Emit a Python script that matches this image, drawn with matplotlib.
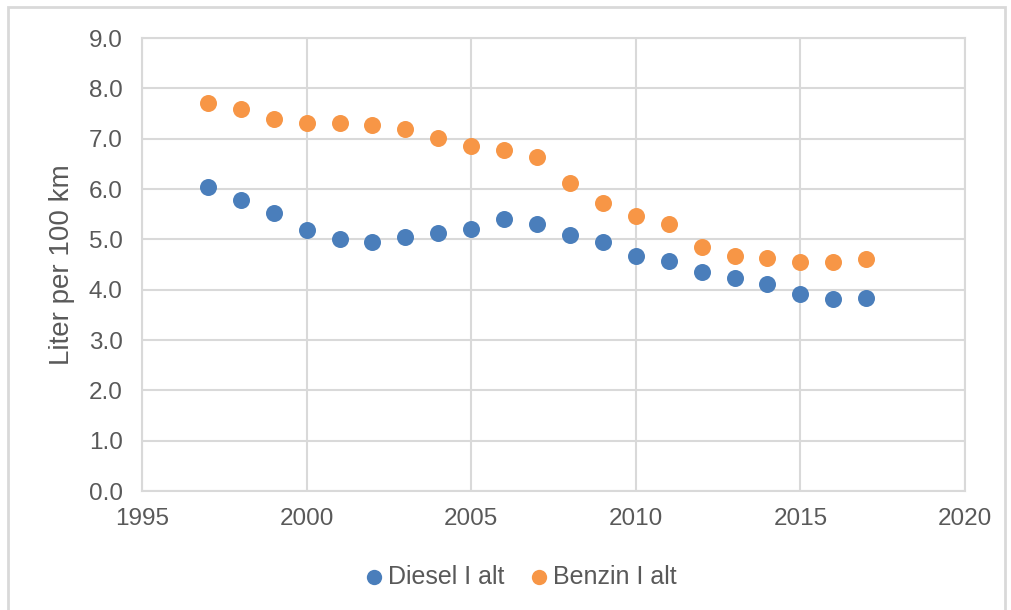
import matplotlib
matplotlib.use("Agg")
from matplotlib import pyplot as plt
from matplotlib.patches import Rectangle

plt.rcParams['font.family'] = ['Liberation Sans', 'DejaVu Sans']

years = list(range(1997, 2018))
diesel = [6.04, 5.78, 5.52, 5.19, 5.01, 4.95, 5.05, 5.13, 5.21, 5.40, 5.30,
          5.09, 4.95, 4.67, 4.57, 4.35, 4.23, 4.11, 3.91, 3.81, 3.83]
benzin = [7.71, 7.59, 7.39, 7.31, 7.31, 7.27, 7.19, 7.01, 6.85, 6.78, 6.64,
          6.12, 5.72, 5.46, 5.30, 4.85, 4.67, 4.63, 4.55, 4.55, 4.61]

text_color = '#595959'
grid_color = '#d9d9d9'

fig = plt.figure(figsize=(10.11, 6.10), dpi=100)
ax = fig.add_axes([0.1405, 0.195, 0.814, 0.7427])

# Outer chart border like Excel
fig.patches.append(Rectangle((0.008, -0.01), 0.986, 0.999, transform=fig.transFigure,
                             fill=False, edgecolor=grid_color, linewidth=2))

ax.scatter(years, diesel, s=150, color='#4a7ebb', label='Diesel I alt', zorder=3, linewidths=0)
ax.scatter(years, benzin, s=150, color='#f79646', label='Benzin I alt', zorder=3, linewidths=0)

ax.set_xlim(1995, 2020)
ax.set_ylim(0, 9)
ax.set_xticks(range(1995, 2021, 5))
ax.set_yticks([i for i in range(10)])
ax.set_yticklabels(['%.1f' % i for i in range(10)])
ax.grid(True, color=grid_color, linewidth=1.5, zorder=0)
for spine in ax.spines.values():
    spine.set_color(grid_color)
    spine.set_linewidth(1.5)
ax.tick_params(length=0, labelsize=17.5, colors=text_color)
ax.tick_params(axis='y', pad=14)
ax.tick_params(axis='x', pad=12)
ax.set_ylabel('Liter per 100 km', fontsize=20, color=text_color, labelpad=10)

fig.legend(*ax.get_legend_handles_labels(), loc='center', bbox_to_anchor=(0.507, 0.054),
           ncol=2, frameon=False, fontsize=18, labelcolor=text_color,
           handletextpad=-0.45, columnspacing=0.4, markerscale=0.9)

fig.savefig('out.png', dpi=100)
